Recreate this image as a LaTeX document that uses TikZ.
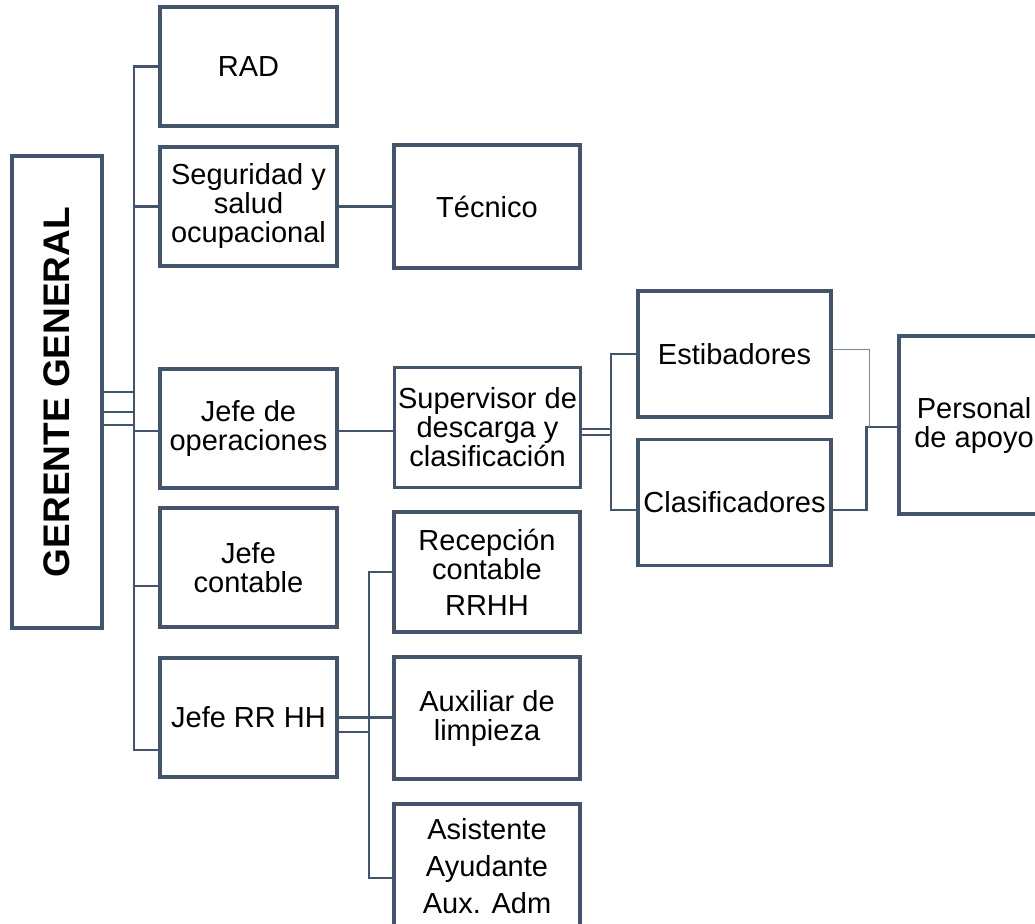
\documentclass[tikz,border=0pt]{standalone}
\usepackage{fontspec}
\setmainfont{Liberation Sans}
\usetikzlibrary{calc}
\definecolor{slate}{HTML}{44546A}
\definecolor{slatelight}{HTML}{7A8699}

\begin{document}
\begin{tikzpicture}[x=1pt,y=-1pt,
  box/.style={draw=slate, line width=3.2pt, fill=white, inner sep=0pt,
    align=center, font=\fontsize{29}{29}\selectfont},
  colA/.style={minimum width=177pt, minimum height=119pt},
  colB/.style={minimum width=186pt, minimum height=120pt},
  colC/.style={minimum width=193pt, minimum height=126pt},
  conn/.style={draw=slate, line width=2.2pt},
  thinconn/.style={draw=slatelight, line width=1pt}]
\useasboundingbox (0,0) rectangle (1035,923);
\clip (0,0) rectangle (1035,923);

% head of the chart
\node[box, rotate=90, minimum width=472pt, minimum height=90pt,
  font=\fontsize{37}{37}\selectfont\bfseries] (gg) at (57,392) {GERENTE GENERAL};

% first level
\node[box, colA] (rad)  at (248.5,66.5)  {RAD};
\node[box, colA] (seg)  at (248.5,206.5) {Seguridad y\\salud\\ocupacional};
\node[box, colA] (jop)  at (248.5,428.5) {Jefe de\\operaciones};
\node[box, colA] (jcon) at (248.5,567.5) {Jefe\\contable};
\node[box, colA] (jrh)  at (248.5,717.5) {Jefe RR HH};

% second level
\node[box, colB, minimum height=123pt] (tec) at (487,206.5) {Técnico};
\node[box, colB] (sup) at (487.5,427.5) {Supervisor de\\descarga y\\clasificación};
\node[box, colB] (rec) at (487,572)   {Recepción\\contable\\[7pt]RRHH};
\node[box, colB, minimum height=122pt] (aux) at (487,718) {Auxiliar de\\limpieza};
\node[box, colB, minimum height=124pt] (asi) at (487,866) {Asistente\\[8pt]Ayudante\\[8pt]Aux. Adm};

% third and fourth level
\node[box, colC] (est) at (734.5,354)   {Estibadores};
\node[box, colC] (cla) at (734.5,502.5) {Clasificadores};
\node[box, minimum width=150pt, minimum height=178pt] (per) at (974,425) {Personal\\de apoyo};

% bus lines
\coordinate (trunk) at (134,0);
\coordinate (sbus)  at (611,0);
\coordinate (rbus)  at (369,0);
\coordinate (pjoin) at ([yshift=-2pt, xshift=-31pt]per.west);

% head to main trunk
\draw[conn] (gg.south) -- (gg.south -| trunk);
\draw[conn] ([yshift=-20pt]gg.south) -- ([yshift=-20pt]gg.south -| trunk);
\draw[conn] ([yshift=-33pt]gg.south) -- ([yshift=-33pt]gg.south -| trunk);

% main trunk to first level
\draw[conn] (rad.west) -- (rad.west -| trunk) |- ([yshift=-32.5pt]jrh.west);
\draw[conn] (seg.west) -- (seg.west -| trunk);
\draw[conn] ([yshift=-2.5pt]jop.west) -- ([yshift=-2.5pt]jop.west -| trunk);
\draw[conn] ([yshift=-18.5pt]jcon.west) -- ([yshift=-18.5pt]jcon.west -| trunk);

% safety branch
\draw[conn] (seg.east) -- (tec.west);

% operations branch
\draw[conn] ([yshift=-2.5pt]jop.east) -- ([yshift=-2.5pt]jop.east -| sup.west);
\draw[conn] ([yshift=-1.5pt]sup.east) -- ([yshift=-1.5pt]sup.east -| sbus);
\draw[conn] ([yshift=-7.5pt]sup.east) -- ([yshift=-7.5pt]sup.east -| sbus);
\draw[conn] (est.west) -- (est.west -| sbus) |- ([yshift=-7.5pt]cla.west);

% support staff
\draw[conn] ([yshift=-7.5pt]cla.east) -| (pjoin) -- (pjoin -| per.west);
\draw[thinconn] ([yshift=5pt]est.east) -| ([xshift=3pt]pjoin);

% human resources branch
\draw[conn] (rec.west) -- (rec.west -| rbus) |- ([yshift=-12pt]asi.west);
\draw[conn] (jrh.east) -- (jrh.east -| aux.west);
\draw[conn] ([yshift=-14.5pt]jrh.east) -- ([yshift=-14.5pt]jrh.east -| rbus);
\end{tikzpicture}
\end{document}
